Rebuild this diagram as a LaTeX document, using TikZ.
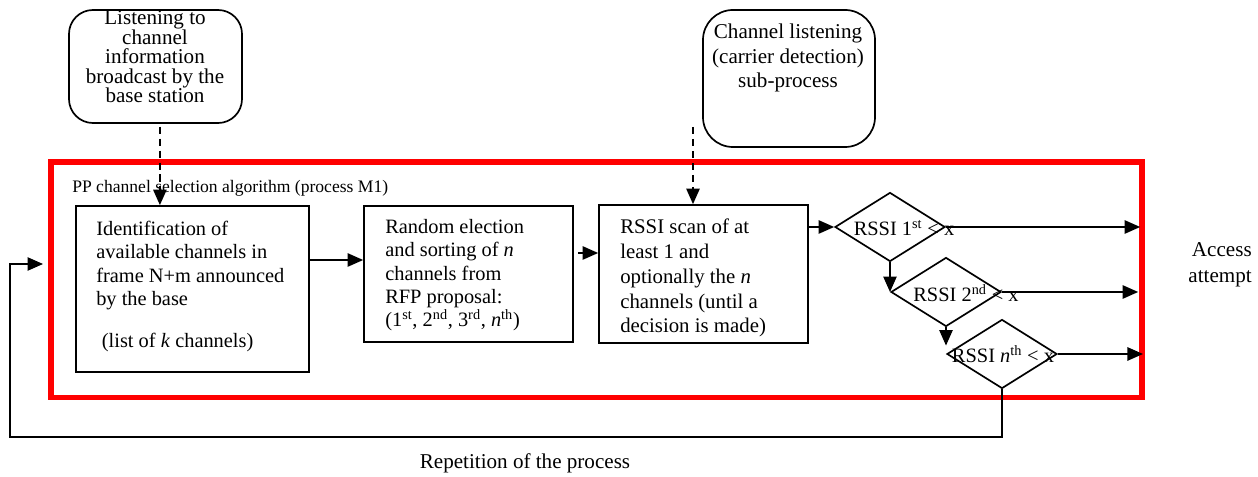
\documentclass[tikz,border=0pt]{standalone}
\usepackage{fontspec}
\setmainfont{Liberation Serif}
\usetikzlibrary{arrows.meta,positioning,shapes.geometric}

\tikzset{
  procbox/.style={draw, line width=1.2pt, inner sep=0},
  roundbox/.style={draw, line width=1.2pt, rounded corners=0.6cm, inner sep=0},
  boxtext/.style={align=left, anchor=north west, inner sep=0, font=\fontsize{14.5}{16.6}\selectfont},
  decision/.style={draw, diamond, line width=1.2pt, inner sep=0, minimum width=2.75cm, minimum height=1.725cm},
  dtext/.style={inner sep=0, font=\fontsize{14.5}{16}\selectfont},
  flow/.style={-{Triangle[length=11pt,width=9.5pt]}, line width=1pt},
}

\begin{document}
\begin{tikzpicture}[x=0.025cm, y=-0.025cm]
        \useasboundingbox (0,0) rectangle (1258,477);

        % outer process frame
        \node[draw=red, line width=4pt, minimum width=27.275cm, minimum height=5.89cm, inner sep=0] (m1) at (596.5,279.75) {};
        \node[anchor=west, inner sep=0, font=\fontsize{12.5}{14}\selectfont] (m1-title) at (72,188) {PP channel selection algorithm (process M1)};

        % sub-processes on top
        \node[roundbox, minimum width=4.325cm, minimum height=2.825cm] (bcast) at (155.5,66.5) {};
        \node[align=center, inner sep=0, font=\fontsize{15}{13.9}\selectfont] (bcast-txt) at (155,57) {Listening to\\channel\\information\\broadcast by the\\base station};
        \node[roundbox, rounded corners=0.75cm, minimum width=4.3cm, minimum height=3.425cm] (listen) at (789,78.5) {};
        \node[align=center, inner sep=0, font=\fontsize{15}{17.4}\selectfont] (listen-txt) at (788,58) {Channel listening\\(carrier detection)\\sub-process};

        % the three steps
        \node[procbox, minimum width=5.825cm, minimum height=4.15cm] (ident) at (192.5,289) {};
        \node[boxtext] (ident-txt) at (96,221) {Identification of\\available channels in\\frame N+m announced\\by the base\\[13pt]\hspace{4pt}(list of \textit{k} channels)};
        \node[procbox, minimum width=5.225cm, minimum height=3.4cm] (elect) at (468.5,274) {};
        \node[boxtext] (elect-txt) at (385,219) {Random election\\and sorting of \textit{n}\\channels from\\RFP proposal:\\(1\textsuperscript{st}, 2\textsuperscript{nd}, 3\textsuperscript{rd}, \textit{n}\textsuperscript{th})};
        \node[procbox, minimum width=5.225cm, minimum height=3.45cm] (scan) at (703.5,274) {};
        \node[boxtext, font=\fontsize{14.8}{17.6}\selectfont] (scan-txt) at (620,219) {RSSI scan of at\\least 1 and\\optionally the \textit{n}\\channels (until a\\decision is made)};

        % threshold tests
        \node[decision] (d1) at (890,227) {};
        \node[dtext] (d1-txt) at (904,228) {RSSI 1\textsuperscript{st} < x};
        \node[decision] (d2) at (946,292) {};
        \node[dtext] (d2-txt) at (966,293) {RSSI 2\textsuperscript{nd} < x};
        \node[decision] (d3) at (1002,354) {};
        \node[dtext] (d3-txt) at (1003,354) {RSSI \textit{n}\textsuperscript{th} < x};

        \node[align=right, anchor=east, inner sep=0, font=\fontsize{15}{18.5}\selectfont] (access) at (1252,265) {Access\\attempt};
        \node[inner sep=0, font=\fontsize{15}{17}\selectfont] (repeat) at (525,463) {Repetition of the process};

        % dashed inputs
        \coordinate (bc-out) at ([xshift=0.11cm]bcast.south);
        \coordinate (cl-out) at (693,127);
        \draw[flow, dash pattern=on 5pt off 3.5pt] ([yshift=-2pt]bc-out) -- (bc-out |- ident.north);
        \draw[flow, dash pattern=on 5pt off 3.5pt] (cl-out) -- (cl-out |- scan.north);

        \draw[flow] (ident.east |- 0,260) -- (elect.west |- 0,260);
        \draw[flow] ([xshift=3pt]elect.east |- 0,253) -- (scan.west |- 0,253);
        \draw[flow] (scan.east |- d1.west) -- (d1.west);
        \draw[flow] (d1.south) -- (d1.south |- d2.west);
        \draw[flow, shorten >=6pt] (d2.south) -- (d2.south |- d3.west);

        \draw[flow, shorten >=0.12cm] (d1.east) -- (d1.east -| m1.east);
        \draw[flow, shorten >=0.17cm] (d2.east) -- (d2.east -| m1.east);
        \draw[flow, shorten >=0.05cm] (d3.east) -- (d3.east -| m1.east);

        % back to the start
        \coordinate (loopin) at (43,264);
        \draw[flow] (d3.south) |- (10,437) |- (loopin);
      \end{tikzpicture}
\end{document}
